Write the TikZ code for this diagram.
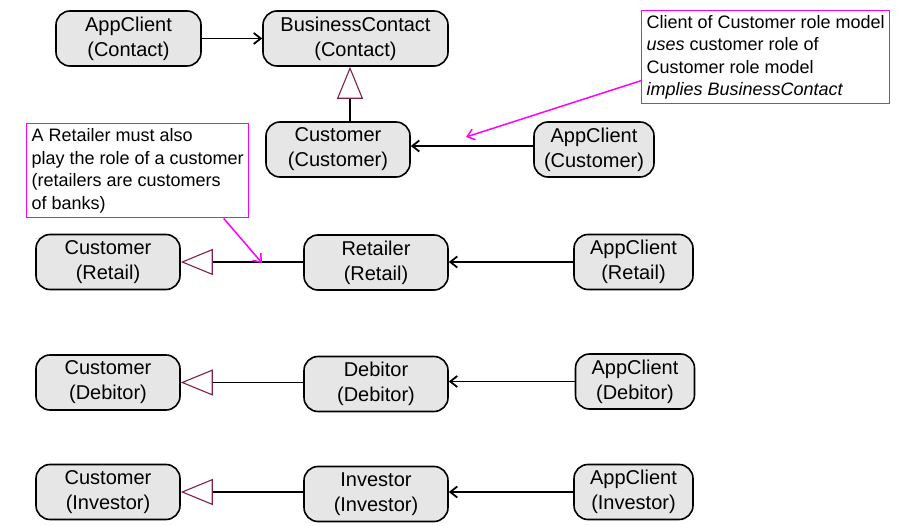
\documentclass[tikz,border=0pt]{standalone}
\usepackage{fontspec}
\setmainfont{Liberation Sans}
\usetikzlibrary{arrows.meta}
\definecolor{boxfill}{RGB}{230,230,230}
\definecolor{gencol}{RGB}{128,32,80}
\definecolor{notecol}{RGB}{255,0,255}
\begin{document}
\begin{tikzpicture}[x=1pt,y=-1pt,
 role/.style={draw, line width=1.6pt, rounded corners=14pt, fill=boxfill, minimum height=55pt, inner sep=0pt, align=center, font=\fontsize{20}{25}\selectfont},
 uses/.style={-{Straight Barb[length=7pt,width=11pt]}, line width=1.8pt},
 gen/.style={-{Triangle[open,length=32pt,width=26pt,color=gencol,line width=1.1pt]}, line width=1.8pt},
 note/.style={draw=notecol, line width=1.4pt, align=left, inner sep=0pt, anchor=north west, font=\fontsize{18}{22.5}\selectfont},
 notearrow/.style={draw=notecol, line width=1.5pt, -{Straight Barb[length=7pt,width=11pt]}}]
\useasboundingbox (0,0) rectangle (907,526);

\node[role, minimum width=145pt] (acc) at (128.5,38.5) {AppClient\\(Contact)};
\node[role, minimum width=185pt] (bc) at (355.5,38.5) {BusinessContact\\(Contact)};
\node[role, minimum width=144pt] (cc) at (338,149.5) {Customer\\(Customer)};
\node[role, minimum width=120pt] (acu) at (594,149.5) {AppClient\\(Customer)};
\node[role, minimum width=144pt] (cr) at (108,262) {Customer\\(Retail)};
\node[role, minimum width=144pt] (ret) at (376,262.5) {Retailer\\(Retail)};
\node[role, minimum width=119pt] (acr) at (633.5,262) {AppClient\\(Retail)};
\node[role, minimum width=144pt] (cd) at (108,382.5) {Customer\\(Debitor)};
\node[role, minimum width=144pt] (deb) at (376,384) {Debitor\\(Debitor)};
\node[role, minimum width=119pt] (acd) at (635,381.5) {AppClient\\(Debitor)};
\node[role, minimum width=144pt] (ci) at (108,492) {Customer\\(Investor)};
\node[role, minimum width=144pt] (inv) at (376,494) {Investor\\(Investor)};
\node[role, minimum width=119pt] (aci) at (633.5,492) {AppClient\\(Investor)};

\draw[uses] (acc) -- (bc);
\coordinate (gx) at (350,0);
\draw[gen] (cc.north -| gx) -- (bc.south -| gx);
\draw[uses] ([yshift=3.5pt]acu.west) -- ([yshift=3.5pt]cc.east);

\draw[gen] (ret.west |- cr.east) -- (cr.east);
\draw[uses] (acr.west) -- (acr.west -| ret.east);
\draw[gen] (deb.west |- cd.east) -- (cd.east);
\draw[uses] (acd.west) -- (acd.west -| deb.east);
\draw[gen] (inv.west |- ci.east) -- (ci.east);
\draw[uses] (aci.west) -- (aci.west -| inv.east);

\node[note, minimum width=248pt, minimum height=93pt] (n1) at (641,10) {Client of Customer role model\\\textit{uses} customer role of\\Customer role model\\\textit{implies BusinessContact}};
\node[note, minimum width=222pt, minimum height=94pt] (n2) at (26,123) {A Retailer must also\\play the role of a customer\\(retailers are customers\\of banks)};

\coordinate (t1) at (466,137);
\draw[notearrow] ([yshift=-23.5pt]n1.west) -- (t1);
\coordinate (t2) at (262,263);
\draw[notearrow] ([xshift=86pt]n2.south) -- (t2);
\end{tikzpicture}
\end{document}
